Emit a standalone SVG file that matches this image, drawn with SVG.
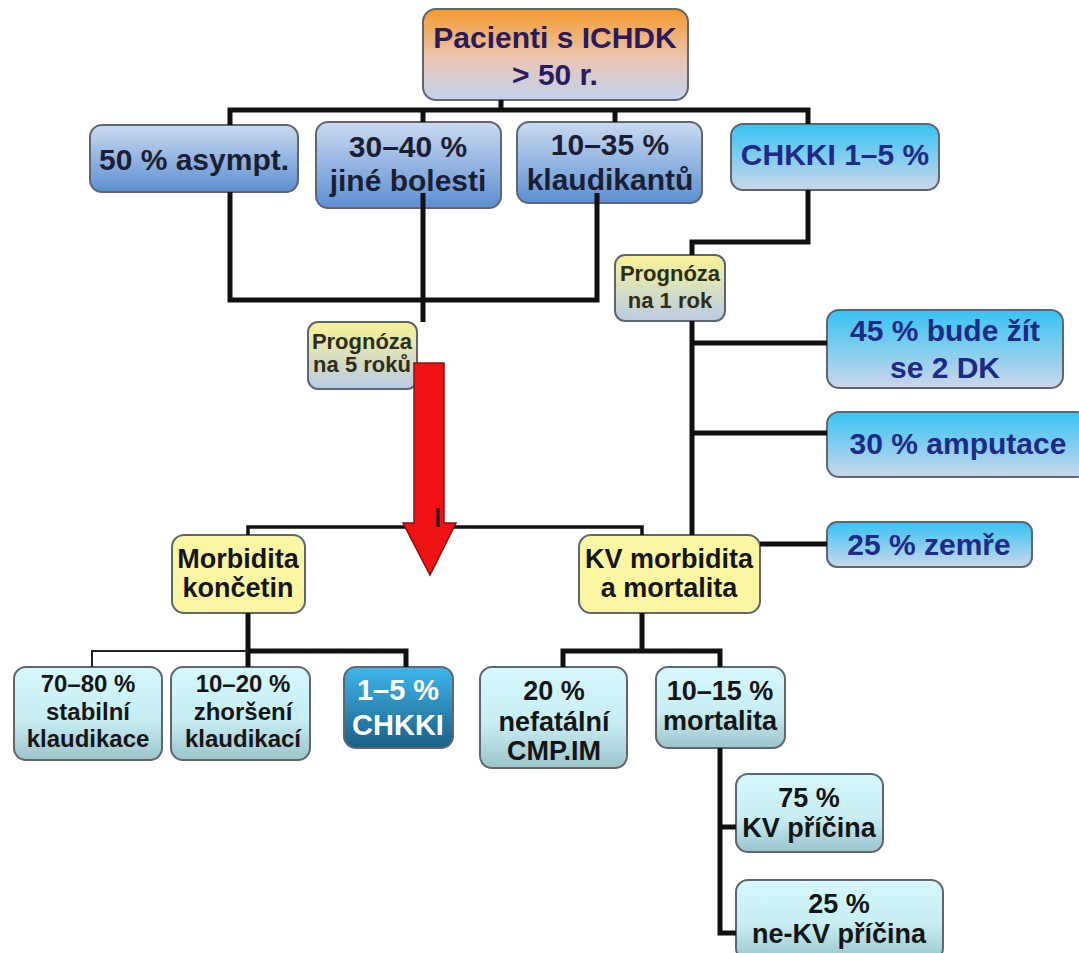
<svg xmlns="http://www.w3.org/2000/svg" width="1079" height="953" viewBox="0 0 1079 953">
<defs>
<linearGradient id="gTop" x1="0" y1="0" x2="0" y2="1"><stop offset="0" stop-color="#f59a2a"/><stop offset="0.55" stop-color="#e9c6b4"/><stop offset="1" stop-color="#c2d3ef"/></linearGradient>
<linearGradient id="gBlue" x1="0" y1="0" x2="0" y2="1"><stop offset="0" stop-color="#cbdaf0"/><stop offset="1" stop-color="#5c8fd2"/></linearGradient>
<linearGradient id="gCyan" x1="0" y1="0" x2="0" y2="1"><stop offset="0" stop-color="#36c3f3"/><stop offset="1" stop-color="#cbd7ea"/></linearGradient>
<linearGradient id="gProg" x1="0" y1="0" x2="0" y2="1"><stop offset="0" stop-color="#f8f396"/><stop offset="1" stop-color="#b9cbe6"/></linearGradient>
<linearGradient id="gAqua" x1="0" y1="0" x2="0" y2="1"><stop offset="0" stop-color="#d6f8fc"/><stop offset="0.55" stop-color="#c6eef3"/><stop offset="1" stop-color="#9cc4cb"/></linearGradient>
<linearGradient id="gDark" x1="0" y1="0" x2="0" y2="1"><stop offset="0" stop-color="#3fb6ec"/><stop offset="1" stop-color="#1a5f86"/></linearGradient>
</defs>
<style>
.box{stroke:#5f6670;stroke-width:2}
.t{font-family:"Liberation Sans",Arial,sans-serif;font-weight:bold;text-anchor:middle}
.navy{fill:#1e2a86}
.dk{fill:#1b1f33}
.blk{fill:#151515}
.ol{fill:#2e2e14}
.ln{fill:none;stroke:#111;stroke-width:5;stroke-linejoin:miter}
.ln3{fill:none;stroke:#111;stroke-width:3.5}
.thin{fill:none;stroke:#222;stroke-width:2}
</style>
<rect width="1079" height="953" fill="#ffffff"/>

<g id="n-top">
<rect class="box" x="423" y="9" width="265" height="91" rx="13" fill="url(#gTop)"/>
<text class="t" x="555" y="48" font-size="30" fill="#2a1a60">Pacienti s ICHDK</text>
<text class="t" x="555" y="85" font-size="30" fill="#2a1a60">&gt; 50 r.</text>
</g>
<g id="n-asympt">
<rect class="box" x="90" y="125" width="208" height="67" rx="12" fill="url(#gBlue)"/>
<text class="t dk" x="194" y="170" font-size="30">50 % asympt.</text>
</g>
<g id="n-jine">
<rect class="box" x="316" y="122" width="185" height="86" rx="12" fill="url(#gBlue)"/>
<text class="t dk" x="408" y="157" font-size="30">30–40 %</text>
<text class="t dk" x="408" y="191" font-size="30">jiné bolesti</text>
</g>
<g id="n-klaud">
<rect class="box" x="517" y="122" width="185" height="81" rx="12" fill="url(#gBlue)"/>
<text class="t dk" x="610" y="155" font-size="30">10–35 %</text>
<text class="t dk" x="610" y="190" font-size="30">klaudikantů</text>
</g>
<g id="n-chkki">
<rect class="box" x="731" y="124" width="208" height="66" rx="12" fill="url(#gCyan)"/>
<text class="t navy" x="835" y="165" font-size="30">CHKKI 1–5 %</text>
</g>
<g id="n-prog1">
<rect class="box" x="615" y="255" width="110" height="66" rx="10" fill="url(#gProg)"/>
<text class="t ol" x="670" y="281" font-size="22">Prognóza</text>
<text class="t ol" x="670" y="308" font-size="22">na 1 rok</text>
</g>
<g id="n-prog5">
<rect class="box" x="308" y="322" width="109" height="67" rx="10" fill="url(#gProg)"/>
<text class="t ol" x="362" y="349" font-size="22">Prognóza</text>
<text class="t ol" x="362" y="372" font-size="22">na 5 roků</text>
</g>
<g id="n-45">
<rect class="box" x="827" y="310" width="236" height="78" rx="12" fill="url(#gCyan)"/>
<text class="t navy" x="945" y="341" font-size="30">45 % bude žít</text>
<text class="t navy" x="945" y="378" font-size="30">se 2 DK</text>
</g>
<g id="n-30">
<rect class="box" x="827" y="412" width="262" height="65" rx="12" fill="url(#gCyan)"/>
<text class="t navy" x="958" y="454" font-size="30">30 % amputace</text>
</g>
<g id="n-25z">
<rect class="box" x="827" y="522" width="205" height="45" rx="10" fill="url(#gCyan)"/>
<text class="t navy" x="929" y="555" font-size="30">25 % zemře</text>
</g>
<g id="n-morb">
<rect class="box" x="172" y="535" width="133" height="78" rx="12" fill="#fbf6a2"/>
<text class="t blk" x="238" y="568" font-size="27">Morbidita</text>
<text class="t blk" x="238" y="597" font-size="27">končetin</text>
</g>
<g id="n-kv">
<rect class="box" x="579" y="535" width="181" height="78" rx="12" fill="#fbf6a2"/>
<text class="t blk" x="669" y="568" font-size="27">KV morbidita</text>
<text class="t blk" x="669" y="597" font-size="27">a mortalita</text>
</g>
<g id="n-7080">
<rect class="box" x="14" y="667" width="148" height="93" rx="12" fill="url(#gAqua)"/>
<text class="t blk" x="88" y="692" font-size="24">70–80 %</text>
<text class="t blk" x="88" y="720" font-size="24">stabilní</text>
<text class="t blk" x="88" y="747" font-size="24">klaudikace</text>
</g>
<g id="n-1020">
<rect class="box" x="171" y="667" width="139" height="93" rx="12" fill="url(#gAqua)"/>
<text class="t blk" x="243" y="692" font-size="24">10–20 %</text>
<text class="t blk" x="243" y="720" font-size="24">zhoršení</text>
<text class="t blk" x="243" y="747" font-size="24">klaudikací</text>
</g>
<g id="n-chkki2">
<rect class="box" x="344" y="667" width="109" height="81" rx="12" fill="url(#gDark)" stroke="#2a4a60"/>
<text class="t" x="398" y="700" font-size="29" fill="#ffffff">1–5 %</text>
<text class="t" x="398" y="735" font-size="29" fill="#ffffff">CHKKI</text>
</g>
<g id="n-20">
<rect class="box" x="480" y="667" width="147" height="101" rx="12" fill="url(#gAqua)"/>
<text class="t blk" x="554" y="700" font-size="27">20 %</text>
<text class="t blk" x="554" y="731" font-size="27">nefatální</text>
<text class="t blk" x="554" y="760" font-size="27">CMP.IM</text>
</g>
<g id="n-1015">
<rect class="box" x="656" y="667" width="129" height="81" rx="12" fill="url(#gAqua)"/>
<text class="t blk" x="720" y="700" font-size="27">10–15 %</text>
<text class="t blk" x="720" y="730" font-size="27">mortalita</text>
</g>
<g id="n-75">
<rect class="box" x="736" y="774" width="147" height="78" rx="12" fill="url(#gAqua)"/>
<text class="t blk" x="809" y="807" font-size="27">75 %</text>
<text class="t blk" x="809" y="837" font-size="27">KV příčina</text>
</g>
<g id="n-25ne">
<rect class="box" x="736" y="880" width="207" height="80" rx="12" fill="url(#gAqua)"/>
<text class="t blk" x="839" y="913" font-size="27">25 %</text>
<text class="t blk" x="839" y="943" font-size="27">ne-KV příčina</text>
</g>

<g id="connectors">
<path class="ln" d="M501 100V110M230 125V110H808V124M423 110V122M615 110V122"/>
<path class="ln" d="M230 192V300H597V193"/>
<path class="ln" d="M423 193V322"/>
<path class="ln" d="M808 190V242H692V255"/>
<path class="ln" d="M692 321V535M692 343H827M692 433H827M760 544H827"/>
<path class="ln3" d="M248 535V527H642V535"/>
<path class="ln" d="M248 613V651H406V667M248 651V667"/>
<path class="thin" d="M248 651H92V667"/>
<path class="ln" d="M642 613V651M563 667V651H720V667"/>
<path class="ln" d="M720 748V933H736M720 827H736"/>
</g>
<g id="arrow">
<path d="M414 363H444V523H456L430 575L403 523H414Z" fill="#ee1212" stroke="#8a1010" stroke-width="1.5"/>
<path d="M438 508V527" stroke="#111" stroke-width="3"/>
</g>
</svg>
